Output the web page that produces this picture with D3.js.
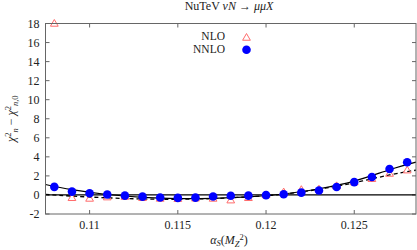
<!DOCTYPE html>
<html>
<head>
<meta charset="utf-8">
<script src="https://cdn.jsdelivr.net/npm/d3@7"></script>
<style>
  body { margin: 0; background: #fff; }
  svg text { font-family: 'Liberation Serif', 'DejaVu Serif', serif; fill: #222; }
</style>
</head>
<body>
<div id="chart"></div>
<script>
// alpha_s values of the scan
var alphas = [0.108, 0.109, 0.110, 0.111, 0.112, 0.113, 0.114, 0.115, 0.116, 0.117, 0.118,
              0.119, 0.120, 0.121, 0.122, 0.123, 0.124, 0.125, 0.126, 0.127, 0.128];
var nlo  = [17.95, -0.35, -0.42, -0.28, -0.22, -0.35, -0.42, -0.45, -0.4, -0.42, -0.6,
            -0.35, -0.05, 0.25, 0.5, 0.55, 0.9, 1.3, 1.65, 2.2, 2.55];
var nnlo = [0.85, 0.35, 0.18, 0.05, -0.07, -0.18, -0.26, -0.31, -0.28, -0.16, -0.08,
            -0.07, -0.02, 0.07, 0.24, 0.47, 0.84, 1.35, 1.88, 2.73, 3.43];

var fitX     = [0.1075, 0.109, 0.111, 0.113, 0.115, 0.117, 0.119, 0.121, 0.123, 0.125, 0.127, 0.1285];
var fitNNLO  = [1.1, 0.55, 0.05, -0.25, -0.38, -0.35, -0.2, 0.1, 0.65, 1.45, 2.65, 3.45];
var fitNLO   = [0.05, -0.12, -0.3, -0.42, -0.45, -0.38, -0.2, 0.08, 0.6, 1.28, 2.1, 2.6];

var xTicks = [0.11, 0.115, 0.12, 0.125];
var yTicks = [-2, 0, 2, 4, 6, 8, 10, 12, 14, 16, 18];

var margin = {top: 23.5, right: 1, bottom: 36, left: 45.5},
    width = 417 - margin.left - margin.right,
    height = 250 - margin.top - margin.bottom;

var fs = "12px", fsSmall = "8.5px";

var root = d3.select("#chart")
    .append("svg")
        .attr("width", 417)
        .attr("height", 250);

var svg = root.append("g")
    .attr("transform", "translate(" + margin.left + "," + margin.top + ")");

var x = d3.scaleLinear()
    .domain([0.1075, 0.1285])
    .range([0, width]);

var y = d3.scaleLinear()
    .domain([-2, 18])
    .range([height, 0]);

var frameColor = "#666";

// ticks, inward on all four sides
var tl = 4;
svg.append("g").selectAll("line.xb").data(xTicks).enter().append("line")
    .attr("x1", function(d) { return x(d); }).attr("x2", function(d) { return x(d); })
    .attr("y1", height).attr("y2", height - tl)
    .attr("stroke", frameColor);
svg.append("g").selectAll("line.xt").data(xTicks).enter().append("line")
    .attr("x1", function(d) { return x(d); }).attr("x2", function(d) { return x(d); })
    .attr("y1", 0).attr("y2", tl)
    .attr("stroke", frameColor);
svg.append("g").selectAll("line.yl").data(yTicks).enter().append("line")
    .attr("x1", 0).attr("x2", tl)
    .attr("y1", function(d) { return y(d); }).attr("y2", function(d) { return y(d); })
    .attr("stroke", frameColor);
svg.append("g").selectAll("line.yr").data(yTicks).enter().append("line")
    .attr("x1", width).attr("x2", width - tl)
    .attr("y1", function(d) { return y(d); }).attr("y2", function(d) { return y(d); })
    .attr("stroke", frameColor);

// tick labels
svg.append("g").selectAll("text").data(xTicks).enter().append("text")
    .attr("x", function(d) { return x(d); })
    .attr("y", height + 14.5)
    .attr("text-anchor", "middle")
    .style("font-size", fs)
    .text(function(d) { return d3.format("")(d); });

svg.append("g").selectAll("text").data(yTicks).enter().append("text")
    .attr("x", -6)
    .attr("y", function(d) { return y(d); })
    .attr("dy", "0.34em")
    .attr("text-anchor", "end")
    .style("font-size", fs)
    .text(function(d) { return d; });

// zero line
svg.append("line")
    .attr("x1", 0).attr("x2", width)
    .attr("y1", y(0)).attr("y2", y(0))
    .attr("stroke", "#000")
    .attr("stroke-width", 1.2);

var line = d3.line()
    .x(function(d) { return x(d[0]); })
    .y(function(d) { return y(d[1]); })
    .curve(d3.curveNatural);

svg.append("path")
    .datum(d3.zip(fitX, fitNLO))
    .attr("fill", "none")
    .attr("stroke", "#000")
    .attr("stroke-width", 1.3)
    .attr("stroke-dasharray", "4,3")
    .attr("d", line);

svg.append("path")
    .datum(d3.zip(fitX, fitNNLO))
    .attr("fill", "none")
    .attr("stroke", "#000")
    .attr("stroke-width", 1.2)
    .attr("d", line);

var tri = d3.symbol().type(d3.symbolTriangle).size(26);

svg.append("g")
    .selectAll("path")
    .data(d3.zip(alphas, nlo))
    .enter()
    .append("path")
        .attr("d", tri)
        .attr("transform", function(d) { return "translate(" + x(d[0]) + "," + y(d[1]) + ")"; })
        .attr("fill", "none")
        .attr("stroke", "#ff6b6b")
        .attr("stroke-width", 1);

svg.append("g")
    .selectAll("circle")
    .data(d3.zip(alphas, nnlo))
    .enter()
    .append("circle")
        .attr("cx", function(d) { return x(d[0]); })
        .attr("cy", function(d) { return y(d[1]); })
        .attr("r", 4.3)
        .attr("fill", "#0000ff");

// frame
svg.append("rect")
    .attr("width", width).attr("height", height)
    .attr("fill", "none")
    .attr("stroke", frameColor)
    .attr("stroke-width", 1);

// legend
var legend = root.append("g");
legend.append("text").attr("x", 225).attr("y", 40).attr("text-anchor", "end")
    .style("font-size", "11.5px").text("NLO");
legend.append("text").attr("x", 225).attr("y", 53).attr("text-anchor", "end")
    .style("font-size", "11.5px").text("NNLO");
legend.append("path").attr("d", tri)
    .attr("transform", "translate(246.5,38)")
    .attr("fill", "none").attr("stroke", "#ff6b6b");
legend.append("circle").attr("cx", 246.5).attr("cy", 49.7).attr("r", 4.3).attr("fill", "#0000ff");

// title
var title = root.append("text")
    .attr("x", 229).attr("y", 10)
    .attr("text-anchor", "middle")
    .style("font-size", fs);
title.append("tspan").text("NuTeV ");
title.append("tspan").style("font-style", "italic").text("νN");
title.append("tspan").text(" → ");
title.append("tspan").style("font-style", "italic").text("μμX");

// x label
var xl = root.append("text")
    .attr("x", 229).attr("y", 244)
    .attr("text-anchor", "middle")
    .style("font-size", fs);
xl.append("tspan").style("font-style", "italic").text("α");
xl.append("tspan").style("font-style", "italic").style("font-size", fsSmall).attr("dy", 2).text("S");
xl.append("tspan").attr("dy", -2).text("(");
xl.append("tspan").style("font-style", "italic").text("M");
xl.append("tspan").style("font-style", "italic").style("font-size", fsSmall).attr("dy", 2.5).text("Z");
xl.append("tspan").style("font-size", fsSmall).attr("dy", -7).text("2");
xl.append("tspan").attr("dy", 4.5).text(")");

// y label
var yl = root.append("text")
    .attr("transform", "translate(15," + (margin.top + height / 2) + ") rotate(-90)")
    .attr("text-anchor", "middle")
    .style("font-size", fs);
yl.append("tspan").style("font-style", "italic").text("χ");
yl.append("tspan").style("font-size", fsSmall).attr("dy", -4.5).text("2");
yl.append("tspan").style("font-style", "italic").style("font-size", fsSmall).attr("dy", 7).text("n");
yl.append("tspan").attr("dy", -2.5).text(" − ");
yl.append("tspan").style("font-style", "italic").text("χ");
yl.append("tspan").style("font-size", fsSmall).attr("dy", -4.5).text("2");
yl.append("tspan").style("font-size", fsSmall).attr("dy", 7).html("<tspan font-style='italic'>n</tspan>,0");
</script>
</body>
</html>
